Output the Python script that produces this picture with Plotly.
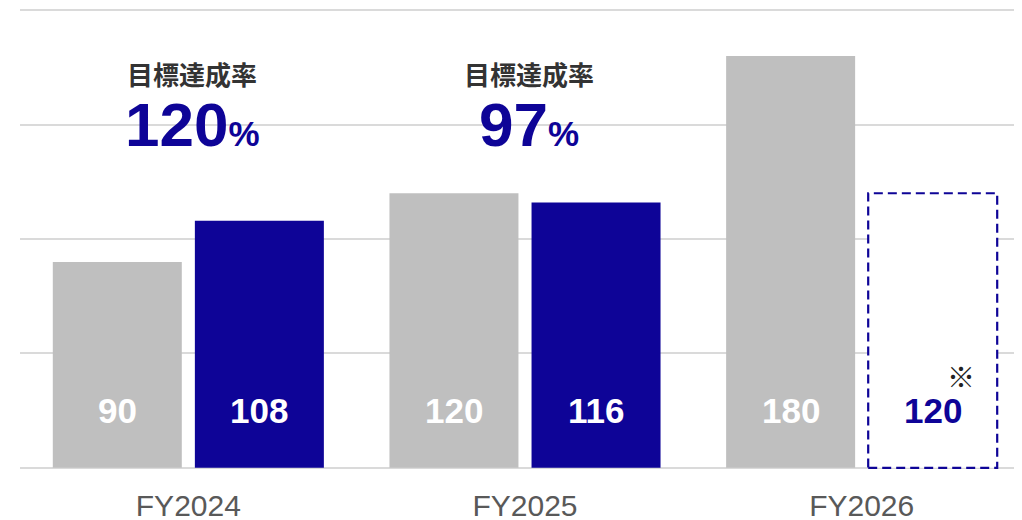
import plotly.graph_objects as go

categories = ["FY2024", "FY2025", "FY2026"]
target_values = [90, 120, 180]
actual_values = [108, 116, 120]
achievement_rates = ["120", "97"]
rate_title = "目標達成率"
note_mark = "※"

GRAY = "#BFBFBF"
NAVY = "#0E0497"
BARGAP = 0.156
GROUPGAP = 0.092

fig = go.Figure()
fig.add_trace(go.Bar(x=categories, y=target_values, marker_color=GRAY,
                     marker_line_width=0, name="target", hoverinfo="skip"))
actual_colors = [NAVY, NAVY, "white"]
fig.add_trace(go.Bar(x=categories, y=actual_values, marker_color=actual_colors,
                     marker_line_width=0, name="actual", hoverinfo="skip"))

slot = (1 - BARGAP) / 2
bar_w = slot * (1 - GROUPGAP)
off = slot / 2

# dashed outline for the forecast bar (last actual value)
i = len(categories) - 1
fig.add_shape(type="rect", xref="x", yref="y",
              x0=i + off - bar_w / 2, x1=i + off + bar_w / 2,
              y0=0, y1=actual_values[i],
              line=dict(color=NAVY, width=2.2, dash="9px,5px"),
              fillcolor="rgba(0,0,0,0)", layer="above")

LABEL_Y = 25
for k, v in enumerate(target_values):
    fig.add_annotation(x=k - off, y=LABEL_Y, text=f"<b>{v}</b>", showarrow=False,
                       xref="x", yref="y", yanchor="middle",
                       font=dict(family="Liberation Sans, Arial", size=35, color="white"))
for k, v in enumerate(actual_values):
    col = "white" if k < len(actual_values) - 1 else NAVY
    fig.add_annotation(x=k + off, y=LABEL_Y, text=f"<b>{v}</b>", showarrow=False,
                       xref="x", yref="y", yanchor="middle",
                       font=dict(family="Liberation Sans, Arial", size=35, color=col))

fig.add_annotation(x=i + off, y=40, text=note_mark, showarrow=False, xref="x", yref="y",
                   xshift=28, yanchor="middle",
                   font=dict(family="Noto Sans CJK JP", size=28, color="#222222"))

for k, r in enumerate(achievement_rates):
    fig.add_annotation(x=k, y=172.5, text=f"<b>{rate_title}</b>", showarrow=False,
                       xref="x", yref="y", xshift=4, yanchor="middle",
                       font=dict(family="Noto Sans CJK JP", size=26, color="#333333"))
    fig.add_annotation(x=k, y=150, text=f"<b>{r}<span style='font-size:35px'>%</span></b>",
                       showarrow=False, xref="x", yref="y", xshift=4, yanchor="middle",
                       font=dict(family="Liberation Sans, Arial", size=62, color=NAVY))

# the page body has an 8px margin; margins below compensate for it
fig.update_layout(
    width=1022, height=520,
    margin=dict(l=12, r=0, t=1, b=59),
    barmode="group", bargap=BARGAP, bargroupgap=GROUPGAP,
    plot_bgcolor="white", paper_bgcolor="white",
    showlegend=False,
)
fig.update_xaxes(type="category", range=[-0.5, 2.5], showgrid=False, zeroline=False,
                 showline=False, ticks="", ticklabelstandoff=16, automargin=False,
                 tickfont=dict(family="Liberation Sans, Arial", size=30, color="#595959"))
fig.update_yaxes(range=[-0.5, 200.5], tickvals=[0, 50, 100, 150, 200], showgrid=True,
                 gridcolor="#DADADA", gridwidth=2, automargin=False,
                 zeroline=False, showticklabels=False, showline=False)

fig.write_html("out.html")
